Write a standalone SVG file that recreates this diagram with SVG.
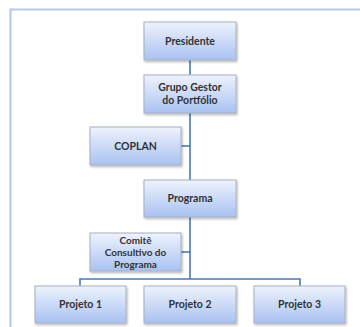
<svg xmlns="http://www.w3.org/2000/svg" width="360" height="327" viewBox="0 0 360 327">
<defs>
<linearGradient id="g" x1="0" y1="0" x2="0" y2="1">
<stop offset="0" stop-color="#eef3fd"/>
<stop offset="1" stop-color="#a9c2f2"/>
</linearGradient>
<filter id="sh" x="-10%" y="-10%" width="130%" height="140%">
<feDropShadow dx="1" dy="1.5" stdDeviation="1" flood-color="#000" flood-opacity="0.3"/>
</filter>
</defs>
<style>
.box{fill:url(#g);stroke:#a8b0c0;stroke-width:1;filter:url(#sh)}
.t{font-family:Lato,"Open Sans",sans-serif;font-size:10.5px;font-weight:bold;fill:#333;text-anchor:middle}
.c{stroke:#4a78b8;stroke-width:1.6;fill:none}
</style>
<rect width="360" height="327" fill="#fff"/>
<path d="M10.5 330 V9.5 H365" fill="none" stroke="#b4c8e6" stroke-width="2"/>
<g id="connectors">
<path class="c" d="M190 60 V279"/>
<path class="c" d="M181 146 H190"/>
<path class="c" d="M181 252 H190"/>
<path class="c" d="M80 286 V279 H300 V286"/>
</g>
<g id="presidente"><rect class="box" x="144" y="22" width="92" height="38"/><text class="t" x="190" y="44.5">Presidente</text></g>
<g id="grupo"><rect class="box" x="144" y="75" width="92" height="38"/><text class="t" x="190" y="91">Grupo Gestor</text><text class="t" x="190" y="104">do Portfólio</text></g>
<g id="coplan"><rect class="box" x="90" y="127" width="91" height="38"/><text class="t" x="135.5" y="149.5">COPLAN</text></g>
<g id="programa"><rect class="box" x="144" y="180" width="92" height="37"/><text class="t" x="190" y="202">Programa</text></g>
<g id="comite"><rect class="box" x="90" y="233" width="91" height="38"/><text class="t" x="135.5" y="243.5" style="font-size:10px">Comitê</text><text class="t" x="135.5" y="255.5" style="font-size:10px">Consultivo do</text><text class="t" x="135.5" y="267.5" style="font-size:10px">Programa</text></g>
<g id="projeto1"><rect class="box" x="35" y="286" width="91" height="37"/><text class="t" x="80.5" y="308">Projeto 1</text></g>
<g id="projeto2"><rect class="box" x="144" y="286" width="92" height="37"/><text class="t" x="190" y="308">Projeto 2</text></g>
<g id="projeto3"><rect class="box" x="254" y="286" width="91" height="37"/><text class="t" x="299.5" y="308">Projeto 3</text></g>
</svg>
